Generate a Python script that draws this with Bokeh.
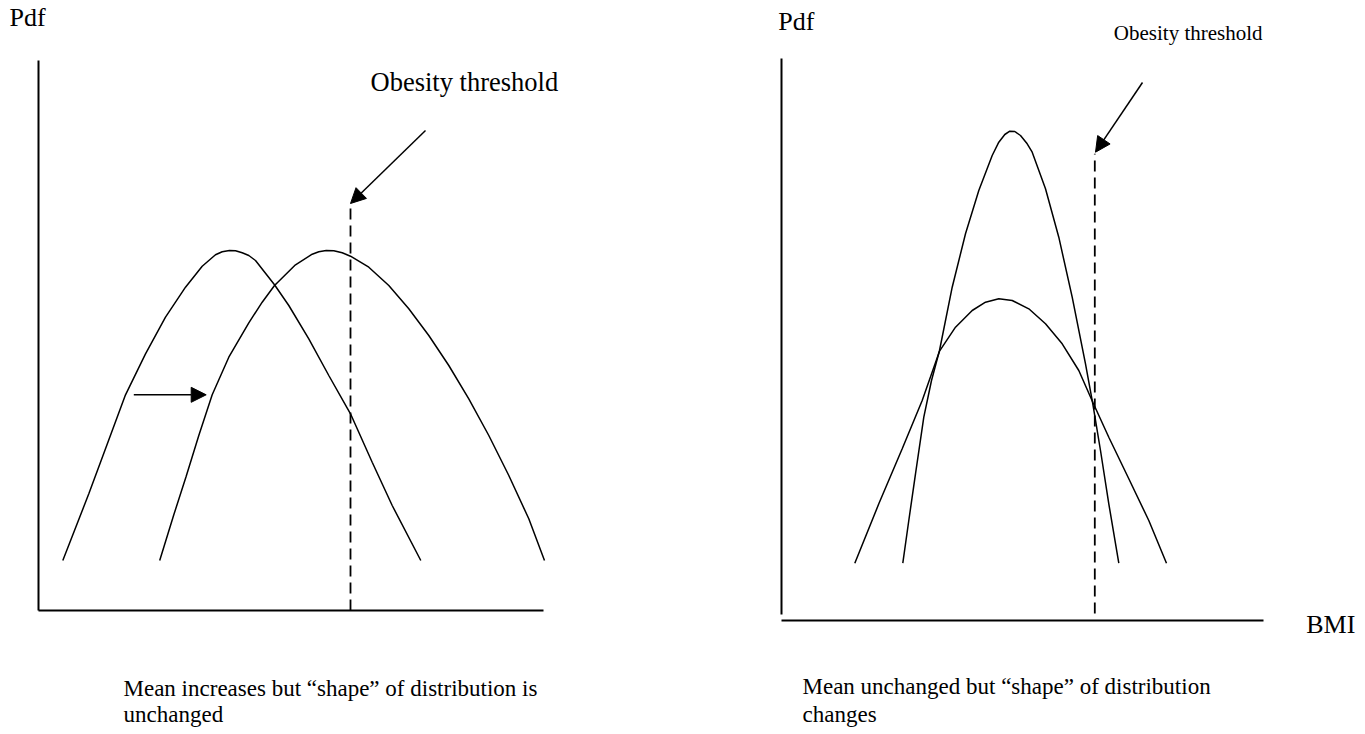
from bokeh.plotting import figure
from bokeh.models import Range1d, Arrow, NormalHead, Label
from bokeh.layouts import row
from bokeh.embed import file_html
from bokeh.resources import INLINE

# ---------------- data ----------------
# Left panel: mean shifts, shape unchanged.  x = BMI, y = pdf (arbitrary units)
left_before_x = [4.86, 10.06, 13.40, 17.40, 21.40, 25.40, 29.40, 32.74, 35.40, 36.74,
                 38.20, 39.40, 40.74, 42.06, 43.40, 47.20, 50.06, 54.06, 58.06, 62.40,
                 66.74, 70.74, 76.46]
left_before_y = [10.00, 23.34, 32.34, 43.14, 51.34, 58.66, 64.66, 68.86, 71.14, 71.74,
                 72.00, 71.94, 71.54, 71.00, 70.00, 65.14, 61.00, 54.34, 47.00, 39.34,
                 29.66, 21.00, 10.00]
left_after_x = [24.24, 27.06, 29.54, 32.06, 34.74, 38.06, 42.06, 44.74, 47.20, 51.40,
                54.74, 56.06, 57.54, 59.06, 60.74, 62.40, 66.06, 70.06, 74.06, 78.06,
                82.06, 86.06, 90.06, 94.06, 98.06, 101.2]
left_after_y = [10.00, 19.14, 26.86, 35.00, 43.14, 50.66, 57.54, 61.66, 65.00, 69.14,
                71.26, 71.74, 72.00, 71.94, 71.54, 70.86, 68.66, 65.00, 60.34, 55.00,
                49.00, 42.34, 35.00, 27.00, 18.34, 10.00]
left_yaxis_y = [0, 110]
left_xaxis_x = [0, 101]
left_threshold_x = 62.4
left_threshold_y = [0, 81.4]
left_pointer = dict(x0=77.4, y0=96.0, x1=62.4, y1=81.4)
left_shift_arrow = dict(x0=19.06, y0=43.14, x1=33.54, y1=43.14)

# Right panel: mean unchanged, shape changes
right_narrow_x = [24.26, 25.46, 26.80, 28.46, 30.00, 31.60, 34.14, 36.80, 39.46, 42.14,
                  43.46, 44.66, 45.66, 46.66, 47.80, 49.14, 50.14, 52.80, 55.46, 58.14,
                  60.80, 62.26, 63.80, 65.46, 67.46]
right_narrow_y = [11.46, 20.00, 29.34, 40.66, 48.00, 54.00, 66.66, 77.34, 86.00, 93.00,
                  95.66, 97.20, 97.86, 97.80, 97.00, 95.34, 93.66, 86.34, 76.66, 64.66,
                  51.34, 43.34, 34.00, 23.34, 11.46]
right_wide_x = [14.66, 19.46, 24.14, 28.14, 31.60, 34.80, 38.14, 40.80, 43.46, 46.14,
                49.46, 52.80, 56.14, 59.46, 62.26, 65.46, 69.46, 73.46, 77.00]
right_wide_y = [11.46, 23.34, 34.34, 44.00, 53.86, 58.66, 62.00, 63.66, 64.34, 64.00,
                62.34, 59.34, 55.34, 50.00, 43.66, 36.66, 28.34, 20.00, 11.46]
right_yaxis_y = [1.2, 112.4]
right_xaxis_x = [0, 96.4]
right_threshold_x = 62.66
right_threshold_y = [1.4, 93.34]
right_pointer = dict(x0=72.2, y0=107.6, x1=62.8, y1=93.66)

# texts
y_label = "Pdf"
x_label = "BMI"
threshold_label = "Obesity threshold"
left_caption = ["Mean increases but \u201cshape\u201d of distribution is", "unchanged"]
right_caption = ["Mean unchanged but \u201cshape\u201d of distribution", "changes"]

FONT = "Liberation Serif"
INK = "#000000"
H = 734


def make_panel(width, xr, yr):
    p = figure(width=width, height=H, x_range=Range1d(*xr), y_range=Range1d(*yr),
               x_axis_type=None, y_axis_type=None, output_backend="svg",
               toolbar_location=None, min_border=0)
    p.grid.visible = False
    p.outline_line_color = None
    p.background_fill_color = "white"
    p.border_fill_color = "white"
    return p


def label(p, x, y, text, size):
    p.add_layout(Label(x=x, y=y, text=text, text_font=FONT, text_font_size=size,
                       text_color=INK, text_align="left", text_baseline="alphabetic"))


def arrow(p, d):
    p.add_layout(Arrow(end=NormalHead(size=15, fill_color=INK, line_color=INK, line_width=1),
                       x_start=d["x0"], y_start=d["y0"], x_end=d["x1"], y_end=d["y1"],
                       line_color=INK, line_width=1.5))


# ---------------- left panel ----------------
p1 = make_panel(688, (-7.6, 130.0), (-24.8, 122.0))
p1.line([0, 0], left_yaxis_y, line_color=INK, line_width=2)
p1.line(left_xaxis_x, [0, 0], line_color=INK, line_width=2)
p1.line(left_before_x, left_before_y, line_color=INK, line_width=1.5)
p1.line(left_after_x, left_after_y, line_color=INK, line_width=1.5)
p1.line([left_threshold_x] * 2, left_threshold_y, line_color=INK, line_width=1.8,
        line_dash="11 6")
arrow(p1, left_pointer)
arrow(p1, left_shift_arrow)
label(p1, -5.8, 118.54, y_label, "26px")
label(p1, 66.4, 105.74, threshold_label, "26.5px")
label(p1, 17.0, -15.6, left_caption[0], "23px")
label(p1, 17.0, -20.8, left_caption[1], "23px")

# ---------------- right panel ----------------
p2 = make_panel(677, (-18.6, 116.8), (-22.8, 124.0))
p2.line([0, 0], right_yaxis_y, line_color=INK, line_width=2)
p2.line(right_xaxis_x, [0, 0], line_color=INK, line_width=2)
p2.line(right_narrow_x, right_narrow_y, line_color=INK, line_width=1.5)
p2.line(right_wide_x, right_wide_y, line_color=INK, line_width=1.5)
p2.line([right_threshold_x] * 2, right_threshold_y, line_color=INK, line_width=1.8,
        line_dash="11 6")
arrow(p2, right_pointer)
label(p2, -0.66, 119.86, y_label, "26px")
label(p2, 66.46, 117.54, threshold_label, "21px")
label(p2, 104.94, -0.86, x_label, "26px")
label(p2, 4.2, -13.2, right_caption[0], "23px")
label(p2, 4.2, -18.8, right_caption[1], "23px")

layout = row(p1, p2)
open("out.html", "w").write(file_html(layout, INLINE))
